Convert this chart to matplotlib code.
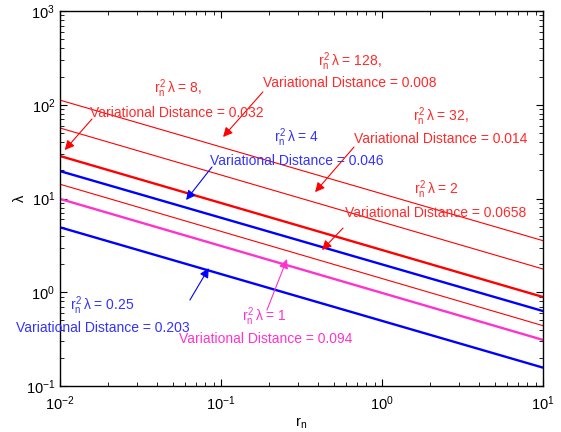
import matplotlib
matplotlib.use("Agg")
import matplotlib.pyplot as plt

plt.rcParams['font.family'] = ['Liberation Sans', 'DejaVu Sans']
plt.rcParams['mathtext.fontset'] = 'custom'
plt.rcParams['mathtext.rm'] = 'Liberation Sans'
plt.rcParams['mathtext.it'] = 'Liberation Sans'
plt.rcParams['mathtext.bf'] = 'Liberation Sans:bold'

# end points of each line, r_n from 1e-2 to 1e1
r_ends = [0.01, 10]
lam_128 = [112, 3.55]
lam_32 = [56.5, 1.77]
lam_8 = [28.4, 0.89]
lam_4 = [19.6, 0.63]
lam_2 = [14.2, 0.44]
lam_1 = [9.9, 0.31]
lam_025 = [4.93, 0.157]

RED = '#ff0000'
BLUE = '#0000ff'
MAG = '#ff33cc'
RED_T = '#ff2a2a'
BLUE_T = '#3333ff'

W, H = 561, 432
fig = plt.figure(figsize=(W / 100, H / 100), dpi=100)
ax = fig.add_axes([60 / W, 1 - 386 / H, 483 / W, 375 / H])

ax.loglog(r_ends, lam_128, color=RED, lw=0.8)
ax.loglog(r_ends, lam_32, color=RED, lw=0.8)
ax.loglog(r_ends, lam_8, color=RED, lw=1.7)
ax.loglog(r_ends, lam_4, color=BLUE, lw=1.7)
ax.loglog(r_ends, lam_2, color=RED, lw=0.8)
ax.loglog(r_ends, lam_1, color=MAG, lw=1.7)
ax.loglog(r_ends, lam_025, color=BLUE, lw=1.7)

ax.set_xlim(1e-2, 1e1)
ax.set_ylim(1e-1, 1e3)
ax.tick_params(which='both', direction='in', top=True, right=True, labelsize=10.5)
ax.tick_params(axis='x', which='major', pad=6)
ax.tick_params(which='major', length=5)
ax.tick_params(which='minor', length=3)
for s in ax.spines.values():
    s.set_linewidth(1.0)
ax.set_xlabel(r'$\mathregular{r_n}$', fontsize=10.5, labelpad=2)
ax.set_ylabel('λ', fontsize=10.5, labelpad=-1)


def fx(px):
    return px / W


def fy(py):
    return 1 - py / H


def label(txt, cx, cy, color):
    fig.text(fx(cx), fy(cy), txt, color=color, fontsize=10, ha='center', va='center')


def arrow(tip, start, color):
    ax.annotate('', xy=tip, xytext=start,
                arrowprops=dict(arrowstyle='-|>', color=color, lw=0.8,
                                mutation_scale=14, shrinkA=0, shrinkB=0))


# r_n^2 lambda = 128
label(r'$r_n^2\,\lambda$ = 128,', 350, 62, RED_T)
label('Variational Distance = 0.008', 350, 83, RED_T)
arrow((0.103, 45.3), (0.182, 137), RED)

# 8
label(r'$r_n^2\,\lambda$ = 8,', 178, 89, RED_T)
label('Variational Distance = 0.032', 177, 113, RED_T)
arrow((0.0107, 32.9), (0.0158, 70.5), RED)

# 4
label(r'$r_n^2\,\lambda$ = 4', 297, 138, BLUE_T)
label('Variational Distance = 0.046', 297, 161, BLUE_T)
arrow((0.0607, 9.64), (0.0879, 21.7), BLUE)

# 32
label(r'$r_n^2\,\lambda$ = 32,', 441, 117, RED_T)
label('Variational Distance = 0.014', 441, 139, RED_T)
arrow((0.384, 11.7), (0.670, 35.4), RED)

# 2
label(r'$r_n^2\,\lambda$ = 2', 437, 190, RED_T)
label('Variational Distance = 0.0658', 436, 213, RED_T)
arrow((0.424, 2.82), (0.573, 4.84), RED)

# 1
label(r'$r_n^2\,\lambda$ = 1', 264, 317, MAG)
label('Variational Distance = 0.094', 266, 339, MAG)
arrow((0.257, 2.26), (0.193, 0.647), MAG)

# 0.25
label(r'$r_n^2\,\lambda$ = 0.25', 102, 306, BLUE_T)
label('Variational Distance = 0.203', 103, 328, BLUE_T)
arrow((0.084, 1.81), (0.0641, 0.826), BLUE)

fig.savefig('out.png', dpi=100)
